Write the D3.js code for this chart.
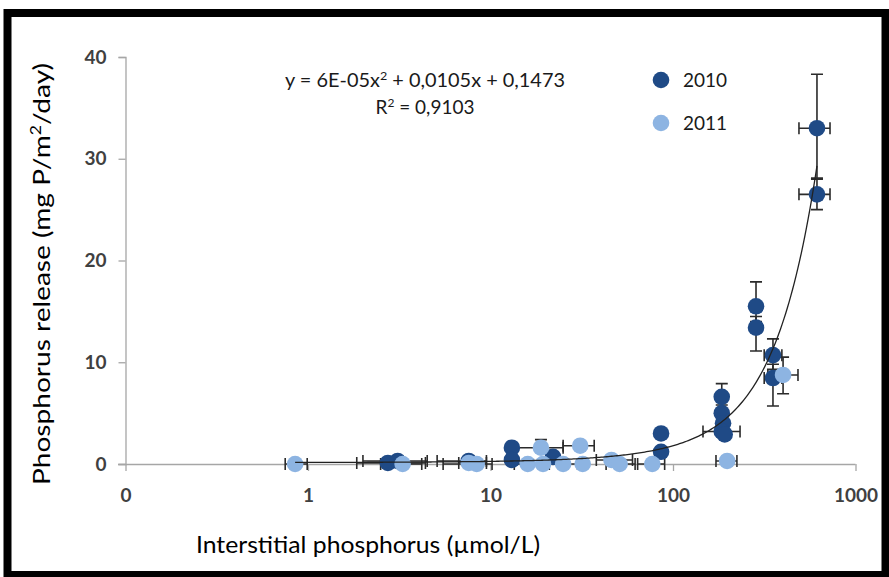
<!DOCTYPE html>
<html>
<head>
<meta charset="utf-8">
<script src="https://cdn.jsdelivr.net/npm/d3@7"></script>
<style>
  html, body { margin: 0; padding: 0; background: #fff; }
  svg { display: block; }
  text { font-family: Lato, "Open Sans", sans-serif; }
</style>
</head>
<body>
<svg id="chart" width="889" height="577"></svg>
<script>
// ---- data ----
const x2010 = [615, 615, 285, 285, 353, 353, 185, 185, 188, 185, 192, 86, 86, 13.1, 13.1, 22, 7.6, 2.74, 3.1];
const y2010 = [33.0, 26.5, 15.5, 13.4, 10.7, 8.45, 6.6, 5.0, 4.0, 3.2, 2.9, 3.0, 1.2, 1.6, 0.4, 0.7, 0.3, 0.1, 0.3];
const xErr2010 = [[490, 725], [490, 725], null, null, [316, 395], [316, 395], null, null, null, [146, 233], null, null, null, null, null, null, [5.1, 9.5], [1.85, 4.4], [2.0, 4.5]];
const yErr2010 = [[28.1, 38.3], [25.0, 28.0], [14.0, 17.9], [11.1, 14.5], [9.3, 12.3], [5.7, 9.8], [5.8, 7.9], null, null, null, null, [2.6, 3.4], null, null, null, null, null, null, null];

const x2011 = [401, 198, 18.9, 31, 7.6, 8.4, 16, 19.4, 25, 32, 46, 51, 77, 0.85, 3.3];
const y2011 = [8.75, 0.3, 1.6, 1.8, 0.1, 0.0, 0.0, 0.0, 0.0, 0.0, 0.4, 0.0, 0.0, 0.0, 0.0];
const xErr2011 = [[331, 484], [172, 224], [13, 25], [25, 37], [6.7, 9.5], [5.5, 10.2], [13.5, 19], null, [21, 30], null, [38, 60], [43, 62], [64, 90], [0.75, 0.99], [2.5, 4.2]];
const yErr2011 = [[6.9, 10.5], null, [1.2, 2.4], null, null, null, null, null, null, null, null, null, null, null, null];

const xTickValues = [0.1, 1, 10, 100, 1000];
const xTickLabels = ["0", "1", "10", "100", "1000"];
const yTickValues = [0, 10, 20, 30, 40];
const trendCoef = [6e-5, 0.0105, 0.1473]; // y = a x^2 + b x + c
const trendRange = [0.85, 615];
const seriesNames = ["2010", "2011"];
const seriesColors = ["#1f4a86", "#8db4e2"];

// ---- layout ----
const svg = d3.select("#chart");
const x = d3.scaleLog().domain([0.1, 1000]).range([125.5, 855.5]);
const y = d3.scaleLinear().domain([0, 40]).range([464, 57]);

svg.append("rect").attr("width", 889).attr("height", 577).attr("fill", "#fff");

// frame
svg.append("rect").attr("x", 7.5).attr("y", 13).attr("width", 878).attr("height", 562)
  .attr("fill", "none").attr("stroke", "#000").attr("stroke-width", 8);

const axisColor = "#a6a6a6";
// y axis
const yAxis = svg.append("g").attr("transform", "translate(125.5,0)")
  .call(d3.axisLeft(y).tickValues(yTickValues).tickSize(7).tickPadding(12));
yAxis.select(".domain").attr("stroke", axisColor).attr("stroke-width", 1.3);
yAxis.selectAll(".tick line").attr("stroke", axisColor).attr("stroke-width", 1.3);
yAxis.selectAll(".tick text").attr("fill", "#404040").attr("font-size", 19)
  .attr("font-family", "Lato, sans-serif").attr("font-weight", 700);

// x axis
const xAxis = svg.append("g").attr("transform", "translate(0,464)")
  .call(d3.axisBottom(x).tickValues(xTickValues).tickFormat((d, i) => xTickLabels[i]).tickSize(7).tickSizeOuter(0).tickPadding(18));
xAxis.select(".domain").attr("stroke", axisColor).attr("stroke-width", 1.3)
  .attr("d", `M118,0.5H${x(1000)}`);
xAxis.selectAll(".tick line").attr("stroke", axisColor).attr("stroke-width", 1.3);
xAxis.selectAll(".tick text").attr("fill", "#404040").attr("font-size", 19)
  .attr("font-family", "Lato, sans-serif").attr("font-weight", 700);

// axis titles
const yt = svg.append("text").attr("transform", "translate(50,274) rotate(-90)")
  .attr("text-anchor", "middle").attr("font-size", 24).attr("fill", "#000")
  .attr("textLength", 422).attr("lengthAdjust", "spacingAndGlyphs");
yt.append("tspan").text("Phosphorus  release (mg P/m");
yt.append("tspan").attr("dy", -9).attr("font-size", 15).text("2");
yt.append("tspan").attr("dy", 9).text("/day)");

svg.append("text").attr("x", 196).attr("y", 553).attr("font-size", 23).attr("fill", "#000")
  .attr("textLength", 344).attr("lengthAdjust", "spacingAndGlyphs")
  .text("Interstitial phosphorus (\u00b5mol/L)");

// error bars
const errG = svg.append("g").attr("stroke", "#2b2b2b").attr("stroke-width", 1.6).attr("fill", "none");
function drawErr(xs, ys, xe, ye) {
  xs.forEach((xv, i) => {
    const cx = x(xv), cy = y(ys[i]);
    if (xe[i]) {
      const a = x(xe[i][0]), b = x(xe[i][1]);
      errG.append("path").attr("d", `M${a},${cy}H${b}M${a},${cy - 6}V${cy + 6}M${b},${cy - 6}V${cy + 6}`);
    }
    if (ye[i]) {
      const a = y(ye[i][0]), b = y(ye[i][1]);
      errG.append("path").attr("d", `M${cx},${a}V${b}M${cx - 6},${a}H${cx + 6}M${cx - 6},${b}H${cx + 6}`);
    }
  });
}
drawErr(x2010, y2010, xErr2010, yErr2010);
drawErr(x2011, y2011, xErr2011, yErr2011);

// points
function drawPts(xs, ys, color) {
  svg.append("g").selectAll("circle").data(xs).join("circle")
    .attr("cx", d => x(d)).attr("cy", (d, i) => y(ys[i])).attr("r", 8.3)
    .attr("fill", color);
}
drawPts(x2010, y2010, seriesColors[0]);
drawPts(x2011, y2011, seriesColors[1]);

// trend line (polynomial from the displayed equation)
const tp = [];
const n = 300;
for (let k = 0; k <= n; k++) {
  const v = Math.exp(Math.log(trendRange[0]) + (Math.log(trendRange[1]) - Math.log(trendRange[0])) * k / n);
  tp.push([v, trendCoef[0] * v * v + trendCoef[1] * v + trendCoef[2]]);
}
svg.append("path").datum(tp)
  .attr("d", d3.line().x(d => x(d[0])).y(d => y(d[1])))
  .attr("fill", "none").attr("stroke", "#222").attr("stroke-width", 1.3);

// equation
const eq = svg.append("text").attr("x", 425).attr("y", 87).attr("text-anchor", "middle")
  .attr("font-size", 19).attr("fill", "#1a1a1a")
  .attr("textLength", 280).attr("lengthAdjust", "spacingAndGlyphs");
eq.append("tspan").text("y = 6E-05x");
eq.append("tspan").attr("dy", -7).attr("font-size", 12).text("2");
eq.append("tspan").attr("dy", 7).text(" + 0,0105x + 0,1473");
const r2 = svg.append("text").attr("x", 425).attr("y", 114).attr("text-anchor", "middle")
  .attr("font-size", 19).attr("fill", "#1a1a1a");
r2.append("tspan").text("R");
r2.append("tspan").attr("dy", -7).attr("font-size", 12).text("2");
r2.append("tspan").attr("dy", 7).text(" = 0,9103");

// legend
seriesNames.forEach((name, i) => {
  const ly = 80 + i * 43;
  svg.append("circle").attr("cx", 661).attr("cy", ly).attr("r", 8.3).attr("fill", seriesColors[i]);
  svg.append("text").attr("x", 683).attr("y", ly + 7).attr("font-size", 19).attr("fill", "#1a1a1a")
    .text(name);
});
</script>
</body>
</html>
